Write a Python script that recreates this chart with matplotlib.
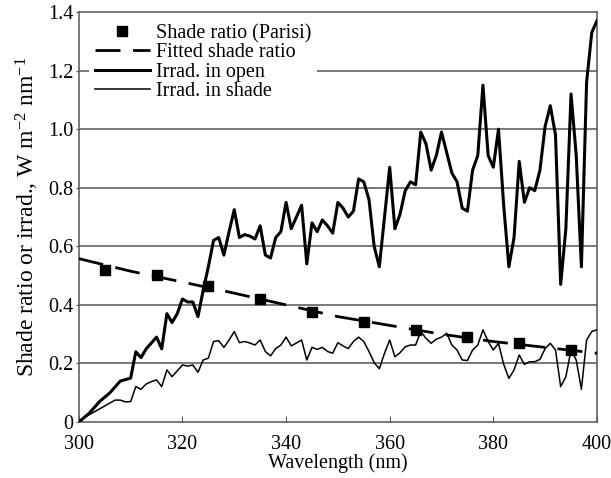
import matplotlib
matplotlib.use("Agg")
import matplotlib.pyplot as plt
import numpy as np

plt.rcParams['font.family'] = ['Liberation Serif', 'DejaVu Serif']
plt.rcParams['mathtext.fontset'] = 'custom'
plt.rcParams['mathtext.rm'] = 'Liberation Serif'
plt.rcParams['mathtext.it'] = 'Liberation Serif:italic'

wavelength = list(range(300, 401))

irrad_open = [
    0.00, 0.015, 0.03, 0.05, 0.07, 0.085, 0.10, 0.12, 0.14, 0.145,   # 300-309
    0.15, 0.24, 0.22, 0.25, 0.27, 0.29, 0.25, 0.37, 0.34, 0.37,      # 310-319
    0.42, 0.41, 0.41, 0.36, 0.45, 0.53, 0.62, 0.63, 0.57, 0.65,      # 320-329
    0.725, 0.63, 0.64, 0.635, 0.625, 0.67, 0.57, 0.56, 0.63, 0.65,   # 330-339
    0.75, 0.66, 0.70, 0.74, 0.54, 0.68, 0.65, 0.69, 0.67, 0.645,     # 340-349
    0.75, 0.73, 0.70, 0.72, 0.83, 0.82, 0.76, 0.60, 0.53, 0.70,      # 350-359
    0.87, 0.66, 0.71, 0.79, 0.82, 0.81, 0.99, 0.95, 0.86, 0.91,      # 360-369
    0.99, 0.92, 0.85, 0.82, 0.73, 0.72, 0.86, 0.91, 1.15, 0.91,      # 370-379
    0.87, 1.00, 0.74, 0.53, 0.63, 0.89, 0.75, 0.80, 0.79, 0.86,      # 380-389
    1.01, 1.08, 0.98, 0.47, 0.66, 1.12, 0.91, 0.53, 1.16, 1.33,      # 390-399
    1.37,                                                            # 400
]

irrad_shade = [
    0.00, 0.015, 0.025, 0.035, 0.045, 0.055, 0.065, 0.075, 0.075, 0.069,  # 300-309
    0.07, 0.121, 0.112, 0.13, 0.138, 0.144, 0.121, 0.178, 0.155, 0.175,   # 310-319
    0.195, 0.191, 0.195, 0.17, 0.212, 0.218, 0.275, 0.278, 0.255, 0.28,   # 320-329
    0.309, 0.271, 0.275, 0.27, 0.263, 0.28, 0.241, 0.226, 0.251, 0.263,   # 330-339
    0.29, 0.26, 0.27, 0.28, 0.212, 0.255, 0.248, 0.255, 0.241, 0.235,     # 340-349
    0.271, 0.26, 0.251, 0.275, 0.29, 0.275, 0.241, 0.203, 0.182, 0.235,   # 350-359
    0.28, 0.223, 0.237, 0.257, 0.263, 0.263, 0.309, 0.286, 0.269, 0.283,  # 360-369
    0.29, 0.303, 0.263, 0.246, 0.212, 0.21, 0.246, 0.263, 0.315, 0.275,   # 370-379
    0.246, 0.269, 0.197, 0.149, 0.178, 0.229, 0.197, 0.206, 0.206, 0.214, # 380-389
    0.251, 0.269, 0.246, 0.121, 0.155, 0.246, 0.212, 0.112, 0.28, 0.309,  # 390-399
    0.315,                                                                # 400
]

parisi_wl = [305, 315, 325, 335, 345, 355, 365, 375, 385, 395]
parisi_ratio = [0.52, 0.503, 0.463, 0.42, 0.377, 0.343, 0.315, 0.292, 0.269, 0.246]

fit_wl = [300, 310, 320, 330, 340, 350, 360, 370, 380, 390, 400]
fit_ratio = [0.558, 0.515, 0.478, 0.44, 0.40, 0.36, 0.33, 0.30, 0.275, 0.255, 0.235]

x_ticks = [300, 320, 340, 360, 380, 400]
y_ticks = [0, 0.2, 0.4, 0.6, 0.8, 1.0, 1.2, 1.4]
y_tick_labels = ['0', '0.2', '0.4', '0.6', '0.8', '1.0', '1.2', '1.4']

fig = plt.figure(figsize=(6.11, 4.78), dpi=100)
ax = fig.add_axes([0.129, 0.117, 0.848, 0.858])

grid_color = '#555555'
for yv in y_ticks[1:-1]:
    ax.axhline(yv, color=grid_color, lw=1.1, zorder=1)

ax.plot(parisi_wl, parisi_ratio, 's', color='black', ms=7, ls='none',
        label='Shade ratio (Parisi)', zorder=4)
ax.plot(fit_wl, fit_ratio, color='black', lw=2.0, ls=(0, (9, 4.5)),
        label='Fitted shade ratio', zorder=3)
ax.plot(wavelength, irrad_open, color='black', lw=2.2,
        label='Irrad. in open', zorder=3)
ax.plot(wavelength, irrad_shade, color='black', lw=1.1,
        label='Irrad. in shade', zorder=3)

ax.set_xlim(300, 400)
ax.set_ylim(0, 1.4)
ax.set_xticks(x_ticks)
ax.set_yticks(y_ticks)
ax.set_yticklabels(y_tick_labels)
ax.tick_params(axis='x', direction='in', length=4, color=grid_color, labelsize=14.5, pad=9)
ax.tick_params(axis='y', direction='out', length=2, color=grid_color, labelsize=14.5, pad=2)
for s in ax.spines.values():
    s.set_color(grid_color)
    s.set_linewidth(1.1)

ax.set_xlabel('Wavelength (nm)', fontsize=14.5, labelpad=0)
ax.set_ylabel('Shade ratio or irrad., W m$^{-2}$ nm$^{-1}$', fontsize=17, labelpad=5)

leg = ax.legend(loc='upper left', bbox_to_anchor=(0.02, 0.985), frameon=True,
                facecolor='white', edgecolor='none', framealpha=1.0,
                fontsize=14.5, handlelength=2.7, handletextpad=0.3,
                labelspacing=0.0, borderpad=0.3, borderaxespad=0.0)
leg.set_zorder(5)

fig.savefig('out.png', dpi=100)
